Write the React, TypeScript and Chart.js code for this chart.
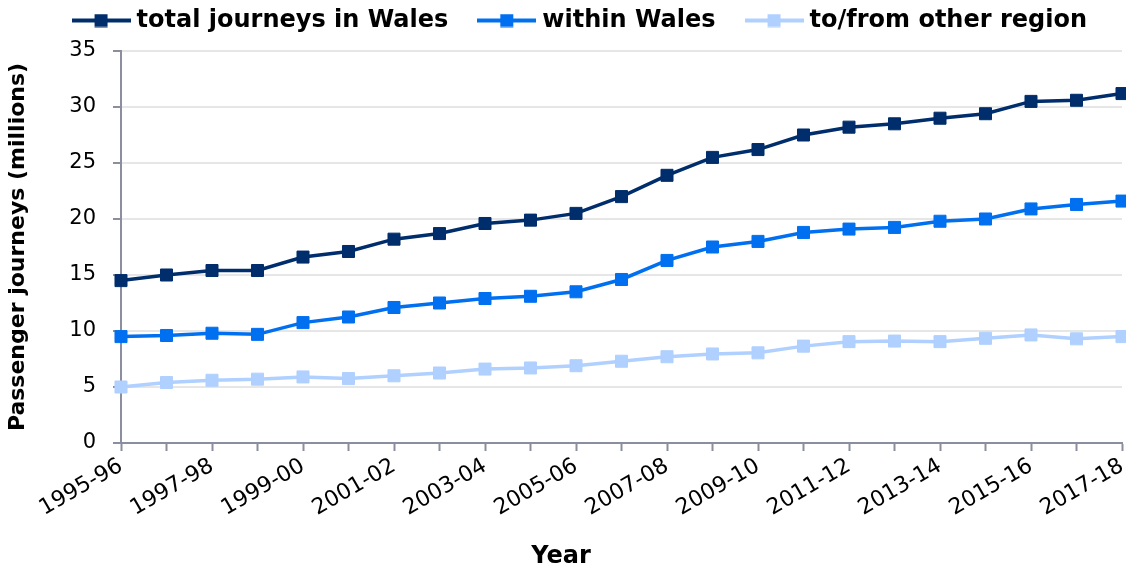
import React, { useEffect, useRef } from 'react';
import { Chart, registerables } from 'chart.js';

Chart.register(...registerables);

const categories = [
  '1995-96', '1996-97', '1997-98', '1998-99', '1999-00', '2000-01', '2001-02', '2002-03',
  '2003-04', '2004-05', '2005-06', '2006-07', '2007-08', '2008-09', '2009-10', '2010-11',
  '2011-12', '2012-13', '2013-14', '2014-15', '2015-16', '2016-17', '2017-18',
];

const totalJourneys = [14.5, 15.0, 15.4, 15.4, 16.6, 17.1, 18.2, 18.7, 19.6, 19.9, 20.5, 22.0, 23.9, 25.5, 26.2, 27.5, 28.2, 28.5, 29.0, 29.4, 30.5, 30.6, 31.2];
const withinWales = [9.5, 9.6, 9.8, 9.7, 10.75, 11.25, 12.1, 12.5, 12.9, 13.1, 13.5, 14.6, 16.3, 17.5, 18.0, 18.8, 19.1, 19.25, 19.8, 20.0, 20.9, 21.3, 21.6];
const otherRegion = [5.0, 5.4, 5.6, 5.7, 5.9, 5.75, 6.0, 6.25, 6.6, 6.7, 6.9, 7.3, 7.7, 7.95, 8.05, 8.65, 9.05, 9.1, 9.05, 9.35, 9.65, 9.3, 9.5];

const seriesNames = ['total journeys in Wales', 'within Wales', 'to/from other region'];
const seriesColors = ['#002D6B', '#0070F0', '#B0D0FF'];

const yMin = 0;
const yMax = 35;
const yStep = 5;
const xAxisTitle = 'Year';
const yAxisTitle = 'Passenger journeys (millions)';

const FONT = 'DejaVu Sans';
const AXIS_GRAY = '#8A8E9E';

export default function App() {
  const ref = useRef<HTMLCanvasElement>(null);

  useEffect(() => {
    const canvas = ref.current;
    if (!canvas) return;

    const icons = seriesColors.map((c) => {
      const cv = document.createElement('canvas');
      cv.width = 59;
      cv.height = 14;
      const g = cv.getContext('2d')!;
      g.strokeStyle = c;
      g.lineWidth = 4;
      g.beginPath();
      g.moveTo(0, 7);
      g.lineTo(59, 7);
      g.stroke();
      g.fillStyle = c;
      g.fillRect(23, 0.5, 13, 13);
      return cv;
    });

    const values = [totalJourneys, withinWales, otherRegion];

    const chart = new Chart(canvas, {
      type: 'line',
      data: {
        labels: categories,
        datasets: values.map((v, i) => ({
          label: seriesNames[i],
          data: v,
          borderColor: seriesColors[i],
          backgroundColor: seriesColors[i],
          borderWidth: 3.5,
          pointStyle: 'rect',
          pointRadius: 8.5,
          pointBorderWidth: 1,
          pointBorderColor: seriesColors[i],
          pointBackgroundColor: seriesColors[i],
          tension: 0,
          fill: false,
        })),
      },
      options: {
        responsive: false,
        animation: false,
        devicePixelRatio: 1,
        events: [],
        layout: { autoPadding: false, padding: { top: -26.5, right: 4, bottom: 0, left: 0 } },
        plugins: {
          legend: {
            position: 'top',
            align: 'end',
            labels: {
              usePointStyle: true,
              pointStyleWidth: 47,
              padding: 35,
              color: '#000',
              font: { family: FONT, size: 24, weight: 'bold' },
              generateLabels: (ch: any) =>
                Chart.defaults.plugins.legend.labels
                  .generateLabels(ch)
                  .map((l: any, i: number) => ({ ...l, pointStyle: icons[i] })),
            },
          },
          subtitle: {
            display: true,
            text: '',
            position: 'top',
            weight: 500,
            font: { size: 5, lineHeight: 1 },
            padding: { top: 3.5, bottom: 0 },
          },
          title: {
            display: true,
            text: xAxisTitle,
            position: 'bottom',
            weight: 2000,
            color: '#000',
            font: { family: FONT, size: 24, weight: 'bold' },
            padding: { top: 0, bottom: 2 },
          },
          tooltip: { enabled: false },
        },
        scales: {
          x: {
            grid: {
              display: true,
              drawOnChartArea: false,
              tickLength: 8,
              tickColor: AXIS_GRAY,
              tickWidth: 2,
            },
            border: { color: AXIS_GRAY, width: 2 },
            ticks: {
              autoSkip: false,
              minRotation: 30,
              maxRotation: 30,
              padding: 2,
              color: '#000',
              font: { family: FONT, size: 22 },
              callback: (_v: any, i: number) => (i % 2 === 0 ? categories[i] : ''),
            },
            afterFit: (s: any) => {
              s.height = 99.2;
              s.paddingLeft = 0;
              s.paddingRight = 0;
            },
          },
          y: {
            min: yMin,
            max: yMax,
            ticks: {
              stepSize: yStep,
              padding: 17,
              color: '#000',
              font: { family: FONT, size: 21 },
            },
            grid: {
              color: '#E6E6E6',
              lineWidth: 2,
              tickLength: 8,
              tickColor: AXIS_GRAY,
              tickWidth: 2,
            },
            border: { color: AXIS_GRAY, width: 2 },
            title: {
              display: true,
              text: yAxisTitle,
              color: '#000',
              font: { family: FONT, size: 22, weight: 'bold' },
              padding: { top: 5, bottom: 0 },
            },
            afterFit: (s: any) => {
              s.width = 121;
            },
          },
        },
      } as any,
    });

    return () => chart.destroy();
  }, []);

  return (
    <div style={{ position: 'absolute', left: 0, top: 0, width: 1126, height: 573 }}>
      <canvas ref={ref} width={1126} height={573} style={{ display: 'block' }} />
    </div>
  );
}
